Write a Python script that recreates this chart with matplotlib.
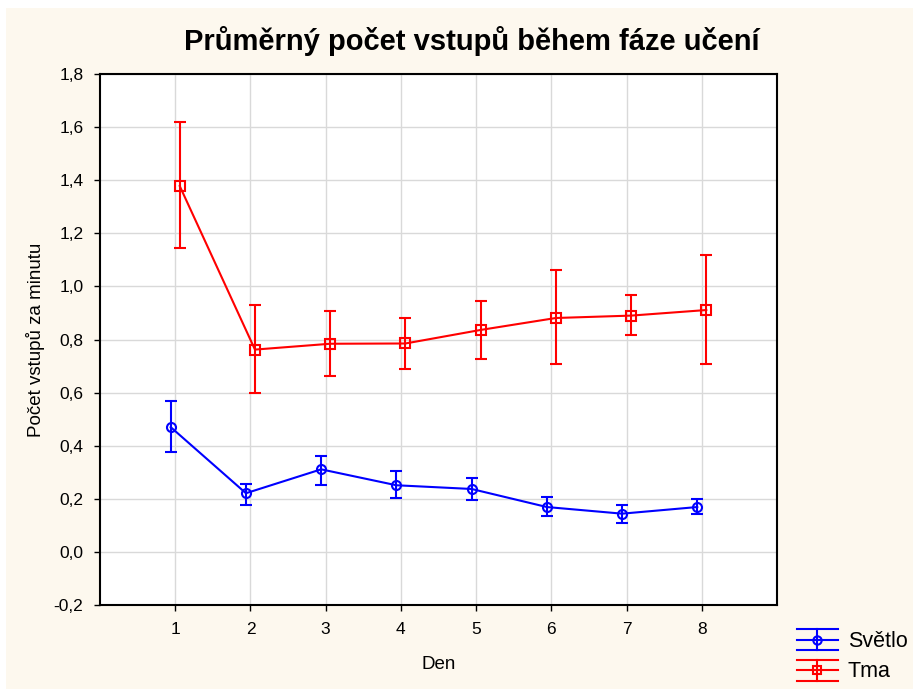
import matplotlib.pyplot as plt
from matplotlib.patches import Rectangle
from matplotlib.lines import Line2D
from matplotlib.legend_handler import HandlerBase
from matplotlib.container import ErrorbarContainer

plt.rcParams['font.family'] = ['Liberation Sans', 'DejaVu Sans']

# Data
days = [1, 2, 3, 4, 5, 6, 7, 8]

svetlo_mean = [0.470, 0.221, 0.311, 0.251, 0.237, 0.169, 0.144, 0.169]
svetlo_low = [0.375, 0.177, 0.252, 0.203, 0.197, 0.134, 0.107, 0.142]
svetlo_high = [0.570, 0.256, 0.362, 0.305, 0.277, 0.205, 0.178, 0.200]

tma_mean = [1.378, 0.762, 0.784, 0.785, 0.836, 0.881, 0.890, 0.911]
tma_low = [1.144, 0.597, 0.664, 0.690, 0.728, 0.707, 0.817, 0.709]
tma_high = [1.621, 0.929, 0.906, 0.880, 0.944, 1.063, 0.968, 1.119]

yticks = [-0.2, 0.0, 0.2, 0.4, 0.6, 0.8, 1.0, 1.2, 1.4, 1.6, 1.8]

cream = '#fdf8ee'


# legend icon like the original: three horizontal bars + vertical bar + marker
class ErrHandler(HandlerBase):
    def create_artists(self, legend, orig_handle, xdescent, ydescent,
                       width, height, fontsize, trans):
        line = orig_handle.lines[0]
        c = line.get_color()
        x0, x1 = -xdescent, -xdescent + width
        y0, y1 = -ydescent, -ydescent + height
        xm, ym = (x0 + x1) / 2, (y0 + y1) / 2
        arts = [Line2D([x0, x1], [y, y], color=c, lw=1.5) for y in (y0, ym, y1)]
        arts.append(Line2D([xm, xm], [y0, y1], color=c, lw=1.5))
        arts.append(Line2D([xm], [ym], marker=line.get_marker(), ms=6,
                           mfc='none', mec=c, mew=1.5, ls='none'))
        for a in arts:
            a.set_transform(trans)
        return arts


fig = plt.figure(figsize=(9.16, 6.89), dpi=100)
fig.patch.set_facecolor('white')
fig.patches.append(Rectangle((6 / 916, 0), 907 / 916, 681 / 689,
                             transform=fig.transFigure, facecolor=cream,
                             edgecolor='none', zorder=-10))

ax = fig.add_axes([100 / 916, 84 / 689, 677 / 916, 531 / 689])
ax.set_facecolor('white')

off = 0.06
xb = [d - off for d in days]
xr = [d + off for d in days]

err_b = [[m - l for m, l in zip(svetlo_mean, svetlo_low)],
         [h - m for m, h in zip(svetlo_mean, svetlo_high)]]
err_r = [[m - l for m, l in zip(tma_mean, tma_low)],
         [h - m for m, h in zip(tma_mean, tma_high)]]

ax.errorbar(xb, svetlo_mean, yerr=err_b, color='#0000ff', lw=1.5,
            marker='o', ms=6.5, mfc='none', mew=1.5, capsize=4, capthick=1.5,
            elinewidth=1.5, label='Světlo', zorder=3)
ax.errorbar(xr, tma_mean, yerr=err_r, color='#ff0000', lw=1.5,
            marker='s', ms=6.5, mfc='none', mew=1.5, capsize=4, capthick=1.5,
            elinewidth=1.5, label='Tma', zorder=3)

ax.set_xlim(0, 9)
ax.set_ylim(-0.2, 1.8)
ax.set_xticks(days)
ax.set_yticks(yticks)
ax.set_yticklabels([f'{v:.1f}'.replace('.', ',') for v in yticks])
ax.grid(True, color='#d9d9d9', lw=1)
ax.set_axisbelow(True)
for s in ax.spines.values():
    s.set_linewidth(1.5)
ax.tick_params(direction='out', length=4, labelsize=12.5, width=1, pad=8)

ax.set_xlabel('Den', fontsize=13.5, labelpad=14)
ax.set_ylabel('Počet vstupů za minutu', fontsize=13.5, labelpad=6)
fig.suptitle('Průměrný počet vstupů během fáze učení', fontsize=21,
             fontweight='bold', x=0.515, y=0.962)

ax.legend(loc='upper left', bbox_to_anchor=(797 / 916, 1 - 629 / 689),
          bbox_transform=fig.transFigure, frameon=False,
          handler_map={ErrorbarContainer: ErrHandler()},
          fontsize=15.5, handlelength=1.9, handleheight=1.15,
          handletextpad=0.45, labelspacing=0.35, borderpad=0,
          borderaxespad=0)

fig.savefig('out.png', dpi=100, facecolor=fig.get_facecolor())
